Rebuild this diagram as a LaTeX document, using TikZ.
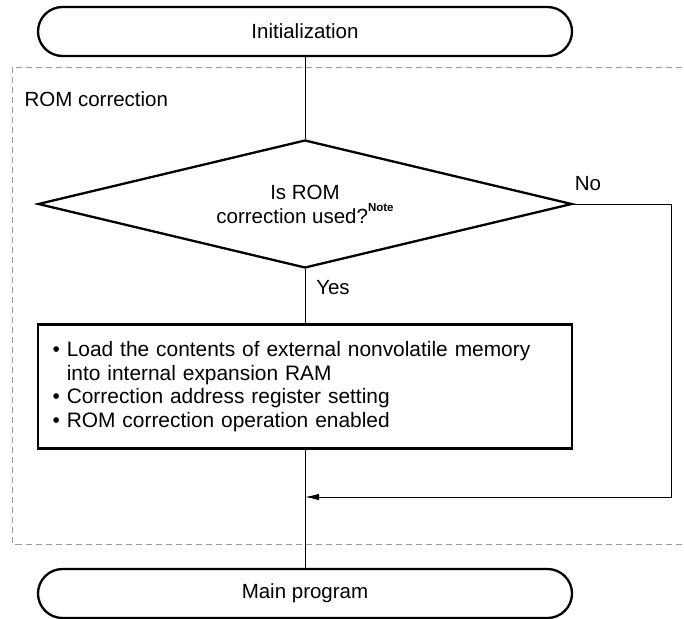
\documentclass[tikz,border=0pt]{standalone}
\usepackage{fontspec}
\setmainfont{Liberation Sans}
\usetikzlibrary{shapes.geometric,arrows.meta}

\begin{document}
\begin{tikzpicture}[x=1pt, y=-1pt, >={Latex[length=14pt,width=6.5pt]},
  every node/.style={font=\fontsize{20.5}{24}\selectfont},
  term/.style={draw, line width=2.3pt, rounded corners=24.5pt, minimum width=534pt, minimum height=49pt, inner sep=0pt},
  decision/.style={draw, diamond, line width=2.3pt, aspect=4.17, minimum width=534pt, minimum height=128pt, inner sep=0pt, align=center},
  proc/.style={draw, line width=2.3pt, text width=505pt, inner xsep=14.5pt, minimum height=124pt, align=left, font=\fontsize{20.9}{23.5}\selectfont},
  conn/.style={line width=1pt},
  region/.style={gray!80, line width=1pt, dash pattern=on 6pt off 4pt}]
  \useasboundingbox (0,0) rectangle (684,618);
  % dashed region
  \draw[region] (12.5,67) rectangle (690,544);
  \node[anchor=west] (romlbl) at (21,99) {ROM correction};
  % terminals
  \node[term] (init) at (305,31.5) {Initialization};
  \node[term] (main) at (305,593.5) {Main program};
  % decision and process
  \node[decision] (dec) at (305,204) {Is ROM\\correction used?\raisebox{1.05ex}{\fontsize{11.5}{11.5}\selectfont\bfseries Note}};
  \node[proc] (proc) at (305,386.5) {\textbullet\ Load the contents of external nonvolatile memory\\
    \phantom{\textbullet\ }into internal expansion RAM\\
    \textbullet\ Correction address register setting\\
    \textbullet\ ROM correction operation enabled};
  \node (nolbl) at (588,184) {No};
  \node (yeslbl) at (333,288) {Yes};
  \coordinate (nocorner) at (671,204);
  \coordinate (joinpt) at (305,497);
  % connectors
  \draw[conn] (init) -- (dec);
  \draw[conn] (dec) -- (proc);
  \draw[conn] (proc) -- (main);
  \draw[conn,->] (dec.east) -- (nocorner) |- (joinpt);
\end{tikzpicture}
\end{document}
